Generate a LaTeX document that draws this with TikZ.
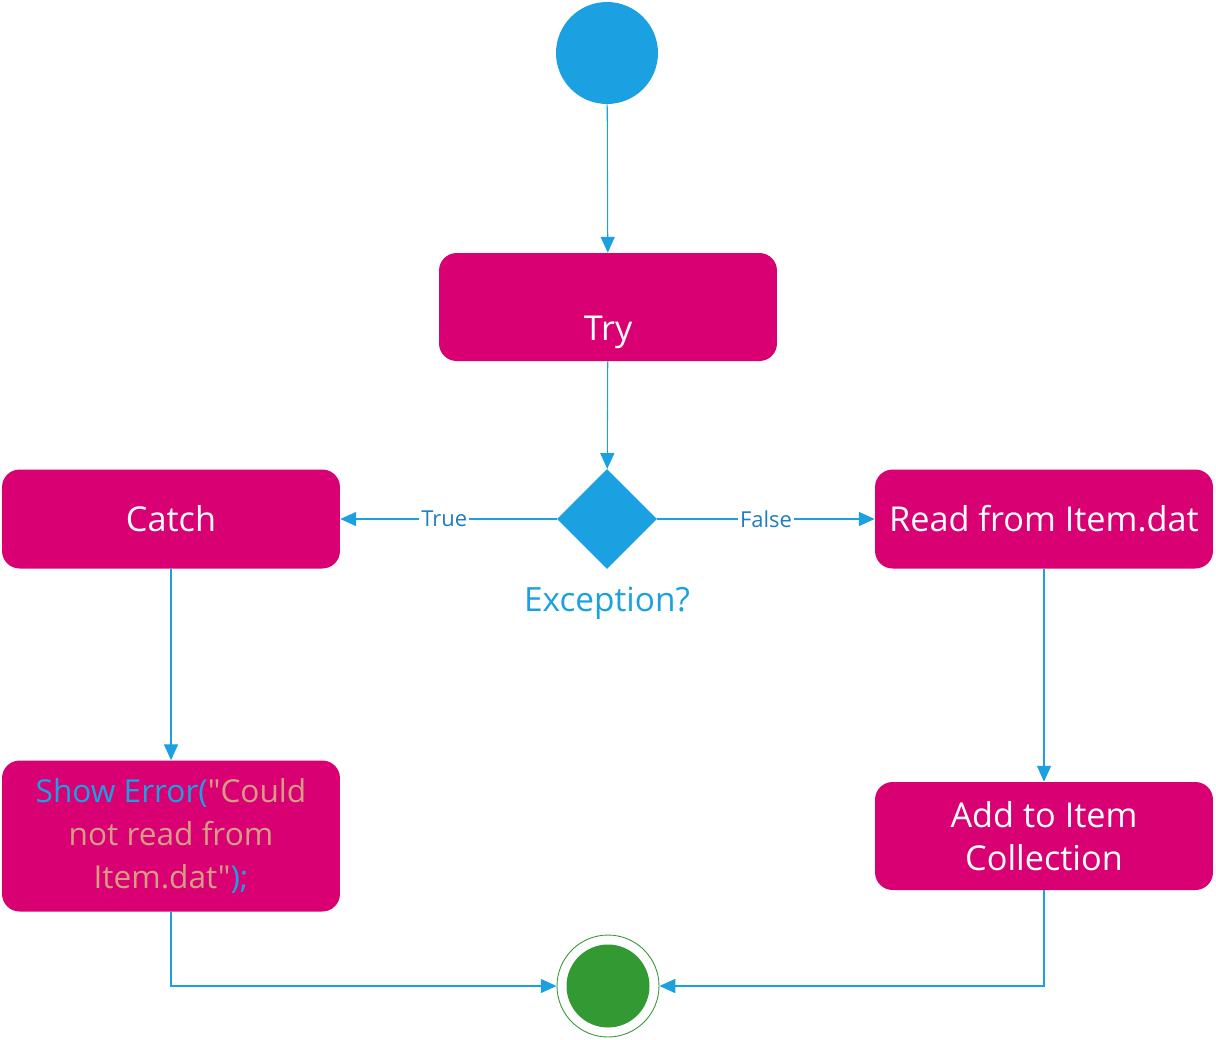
\documentclass[tikz,border=0pt]{standalone}
\usepackage{fontspec}
\setmainfont{Open Sans}
\newfontfamily\codefont{Open Sans}
\usetikzlibrary{arrows.meta,shapes.geometric}

\definecolor{blauw}{HTML}{1BA1E2}
\definecolor{labelblauw}{HTML}{1E7EC0}
\definecolor{magenta}{HTML}{D80073}
\definecolor{groen}{HTML}{339933}
\definecolor{tekst}{HTML}{D69D85}

\tikzset{
    stap/.style={rectangle, rounded corners=10pt, fill=magenta, text=white,
        minimum width=6.76cm, align=center, font=\fontsize{19.5}{24.5}\selectfont},
    pijl/.style={draw=blauw, line width=0.6pt, -{Triangle[length=9pt,width=8pt]}},
    lbl/.style={fill=white, text=labelblauw, inner sep=1pt, font=\fontsize{12.5}{14}\selectfont}
}

\begin{document}
\begin{tikzpicture}[x=0.02cm, y=-0.02cm]
    \useasboundingbox (0,0) rectangle (1216,1039);
    \path node[circle, fill=blauw, minimum size=2.04cm] (start) at (607,53) {}
        node[stap, minimum height=2.16cm, text height=1.5cm, text depth=0.16cm] (try) at (608,307) {Try}
        node[diamond, fill=blauw, minimum size=2cm, inner sep=0pt] (exc) at (607,519) {}
        node[text=blauw, font=\fontsize{19}{22}\selectfont] (exclbl) at (607,603) {Exception?}
        node[stap, minimum height=1.98cm] (catch) at (171,519) {Catch}
        node[stap, minimum height=1.98cm] (read) at (1044,519) {Read from Item.dat}
        node[stap, minimum height=3.02cm, font=\codefont\fontsize{18}{24.5}\selectfont] (show) at (171,836)
            {\textcolor{blauw}{Show Error(}\textcolor{tekst}{"Could}\\
             \textcolor{tekst}{not read from}\\
             \textcolor{tekst}{Item.dat"}\textcolor{blauw}{);}}
        node[stap, minimum height=2.16cm] (add) at (1044,836) {Add to Item\\Collection}
        node[circle, draw=groen, line width=0.5pt, minimum size=2.04cm] (end) at (608,986) {}
        node[circle, fill=groen, minimum size=1.66cm] (endin) at (608,986) {};
    \draw[pijl] (start) -- (try);
    \draw[pijl] (try) -- (exc);
    \draw[pijl] (exc) -- node[lbl, pos=0.52] {True} (catch);
    \draw[pijl] (exc) -- node[lbl, pos=0.5] {False} (read);
    \draw[pijl] (catch) -- (show);
    \draw[pijl] (read) -- (add);
    \draw[pijl] (show) |- (end);
    \draw[pijl] (add) |- (end);
\end{tikzpicture}
\end{document}
